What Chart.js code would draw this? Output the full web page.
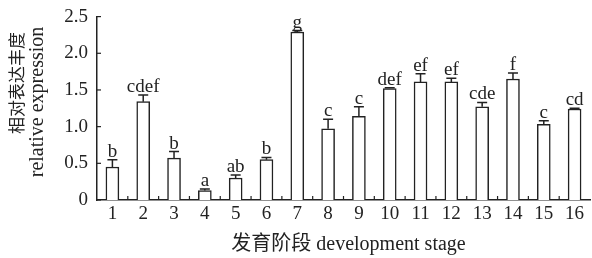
<meta charset="UTF-8">
<style>
  html, body { margin: 0; padding: 0; background: #fff; }
  #wrap { width: 592px; height: 258px; }
</style>
<div id="wrap">
  <canvas id="myChart" width="592" height="258"></canvas>
</div>

<script src="https://cdn.jsdelivr.net/npm/chart.js@4.4.0/dist/chart.umd.min.js"></script>

<script>
  const stages = ['1', '2', '3', '4', '5', '6', '7', '8', '9', '10', '11', '12', '13', '14', '15', '16'];
  const expression = [0.45, 1.34, 0.57, 0.13, 0.30, 0.55, 2.29, 0.97, 1.14, 1.52, 1.61, 1.61, 1.27, 1.65, 1.03, 1.24];
  const errors = [0.10, 0.09, 0.09, 0.02, 0.04, 0.03, 0.02, 0.13, 0.13, 0.01, 0.11, 0.05, 0.06, 0.08, 0.05, 0.01];
  const letters = ['b', 'cdef', 'b', 'a', 'ab', 'b', 'g', 'c', 'c', 'def', 'ef', 'ef', 'cde', 'f', 'c', 'cd'];
  const yTitle = ['相对表达丰度', 'relative expression'];
  const xTitle = '发育阶段 development stage';

  const serif = '"Liberation Serif", "Noto Sans CJK SC", serif';
  const ink = '#222';

  // error bars, significance letters, inward ticks and axis titles
  const extras = {
    id: 'extras',
    afterDatasetsDraw(chart) {
      const c = chart.ctx;
      const x = chart.scales.x;
      const y = chart.scales.y;
      c.save();
      c.strokeStyle = ink;
      c.fillStyle = ink;
      c.lineWidth = 1.5;
      for (let i = 0; i < expression.length; ++i) {
        const cx = x.getPixelForValue(i);
        const top = y.getPixelForValue(expression[i]);
        const et = y.getPixelForValue(expression[i] + errors[i]);
        c.beginPath();
        c.moveTo(cx, top);
        c.lineTo(cx, et);
        c.moveTo(cx - 5, et);
        c.lineTo(cx + 5, et);
        c.stroke();
        c.font = '19px ' + serif;
        c.textAlign = 'center';
        c.textBaseline = 'alphabetic';
        c.fillText(letters[i], cx, et - 3);
      }
      // inward ticks on y
      c.lineWidth = 1.2;
      y.ticks.forEach((t, k) => {
        const py = y.getPixelForTick(k);
        c.beginPath();
        c.moveTo(x.left, py);
        c.lineTo(x.left + 4, py);
        c.stroke();
      });
      // inward ticks between categories
      for (let i = 0; i < stages.length - 1; ++i) {
        const px = (x.getPixelForValue(i) + x.getPixelForValue(i + 1)) / 2;
        c.beginPath();
        c.moveTo(px, y.bottom);
        c.lineTo(px, y.bottom - 4);
        c.stroke();
      }
      // x title
      c.textAlign = 'center';
      c.textBaseline = 'alphabetic';
      c.font = '20px ' + serif;
      c.fillText(xTitle, (x.left + x.right) / 2 + 5, 250);
      // two-line y title
      c.rotate(-Math.PI / 2);
      c.textBaseline = 'middle';
      c.font = '17px ' + serif;
      c.fillText(yTitle[0], -83, 19);
      c.textBaseline = 'alphabetic';
      c.font = '20px ' + serif;
      c.fillText(yTitle[1], -102, 43);
      c.restore();
    }
  };

  const data = {
    labels: stages,
    datasets: [{
      data: expression,
      backgroundColor: '#fff',
      borderColor: ink,
      borderWidth: 1.5,
      barThickness: 13,
    }]
  };

  const config = {
    type: 'bar',
    data: data,
    options: {
      responsive: false,
      animation: false,
      events: [],
      layout: { padding: { top: 8, right: 2, left: 0, bottom: 0 } },
      plugins: {
        legend: { display: false },
        tooltip: { enabled: false },
      },
      scales: {
        x: {
          offset: true,
          grid: { display: false, drawTicks: false },
          border: { display: true, color: ink, width: 1.5 },
          ticks: { color: ink, font: { family: serif, size: 19 }, padding: 3, maxRotation: 0, autoSkip: false },
          afterFit: (s) => { s.height = 58; },
        },
        y: {
          min: 0,
          max: 2.5,
          grid: { display: false, drawTicks: false },
          border: { display: true, color: ink, width: 1.5 },
          ticks: {
            stepSize: 0.5,
            color: ink,
            font: { family: serif, size: 19, lineHeight: 0.8 },
            padding: 9,
            callback: (v) => v === 0 ? '0' : v.toFixed(1),
          },
          afterFit: (s) => { s.width = 97; },
        }
      }
    },
    plugins: [extras],
  };

  new Chart(document.getElementById('myChart'), config);
</script>
